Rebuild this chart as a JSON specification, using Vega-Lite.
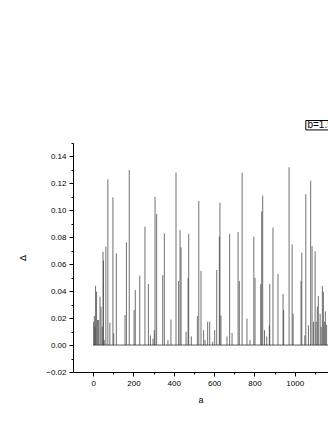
{
  "$schema": "https://vega.github.io/schema/vega-lite/v6.json",
  "width": 255,
  "height": 229,
  "autosize": {"type": "none"},
  "padding": {"left": 73, "top": 143, "right": 0, "bottom": 53},
  "config": {
    "view": {"stroke": null},
    "font": "Liberation Sans",
    "axis": {
      "grid": false,
      "domainColor": "#000",
      "tickColor": "#000",
      "labelColor": "#000",
      "titleColor": "#000",
      "labelFont": "Liberation Sans",
      "titleFont": "Liberation Sans",
      "labelFontSize": 8,
      "titleFontSize": 9,
      "titleFontWeight": "normal",
      "domainWidth": 1,
      "tickWidth": 1
    }
  },
  "datasets": {
    "spikes": [
      {"a": 2.5, "d": 0.0173}, {"a": 6, "d": 0.0215}, {"a": 9, "d": 0.0136}, {"a": 12, "d": 0.044},
      {"a": 17, "d": 0.0396}, {"a": 22, "d": 0.0186}, {"a": 27, "d": 0.0186}, {"a": 34, "d": 0.0359},
      {"a": 39, "d": 0.0285}, {"a": 45, "d": 0.0136}, {"a": 49, "d": 0.0693}, {"a": 51, "d": 0.0627},
      {"a": 55, "d": 0.0037}, {"a": 63, "d": 0.0731}, {"a": 73, "d": 0.123}, {"a": 83, "d": 0.0166},
      {"a": 98, "d": 0.1097}, {"a": 102, "d": 0.0087}, {"a": 115, "d": 0.0681}, {"a": 158, "d": 0.0223},
      {"a": 165, "d": 0.0763}, {"a": 179, "d": 0.130}, {"a": 203, "d": 0.026}, {"a": 209, "d": 0.0409},
      {"a": 231, "d": 0.0515}, {"a": 257, "d": 0.0879}, {"a": 274, "d": 0.0453}, {"a": 284, "d": 0.0072},
      {"a": 297, "d": 0.0047}, {"a": 303, "d": 0.011}, {"a": 307, "d": 0.110}, {"a": 315, "d": 0.0973},
      {"a": 345, "d": 0.0519}, {"a": 353, "d": 0.083}, {"a": 371, "d": 0.0037}, {"a": 386, "d": 0.019},
      {"a": 411, "d": 0.128}, {"a": 424, "d": 0.0476}, {"a": 431, "d": 0.0854}, {"a": 436, "d": 0.0725},
      {"a": 461, "d": 0.0099}, {"a": 471, "d": 0.050}, {"a": 474, "d": 0.0825}, {"a": 487, "d": 0.0064},
      {"a": 517, "d": 0.0215}, {"a": 524, "d": 0.107}, {"a": 535, "d": 0.055}, {"a": 548, "d": 0.011},
      {"a": 555, "d": 0.0037}, {"a": 568, "d": 0.0173}, {"a": 578, "d": 0.0173}, {"a": 593, "d": 0.0025},
      {"a": 603, "d": 0.011}, {"a": 613, "d": 0.0557}, {"a": 626, "d": 0.0805}, {"a": 629, "d": 0.1057},
      {"a": 634, "d": 0.0218}, {"a": 664, "d": 0.0064}, {"a": 677, "d": 0.0825}, {"a": 689, "d": 0.009},
      {"a": 719, "d": 0.0838}, {"a": 725, "d": 0.0476}, {"a": 739, "d": 0.128}, {"a": 763, "d": 0.0196},
      {"a": 778, "d": 0.0037}, {"a": 797, "d": 0.0805}, {"a": 803, "d": 0.0499}, {"a": 831, "d": 0.0451},
      {"a": 836, "d": 0.0991}, {"a": 841, "d": 0.111}, {"a": 850, "d": 0.011}, {"a": 861, "d": 0.0064},
      {"a": 874, "d": 0.0146}, {"a": 876, "d": 0.0453}, {"a": 892, "d": 0.0872}, {"a": 917, "d": 0.0528},
      {"a": 942, "d": 0.038}, {"a": 945, "d": 0.026}, {"a": 972, "d": 0.132}, {"a": 987, "d": 0.0748},
      {"a": 992, "d": 0.0233}, {"a": 1031, "d": 0.0476}, {"a": 1035, "d": 0.0687}, {"a": 1050, "d": 0.0072},
      {"a": 1055, "d": 0.112}, {"a": 1068, "d": 0.0146}, {"a": 1079, "d": 0.122}, {"a": 1086, "d": 0.0734},
      {"a": 1093, "d": 0.0173}, {"a": 1101, "d": 0.0697}, {"a": 1106, "d": 0.0173}, {"a": 1112, "d": 0.0285},
      {"a": 1117, "d": 0.0364}, {"a": 1126, "d": 0.0233}, {"a": 1131, "d": 0.0136}, {"a": 1137, "d": 0.0438},
      {"a": 1142, "d": 0.0396}, {"a": 1147, "d": 0.0173}, {"a": 1152, "d": 0.025}, {"a": 1158, "d": 0.015}
    ],
    "base": [{"a": 0, "a2": 1200, "v": 0}],
    "lab": [{"a": 1055, "a2": 1300, "y": 0.1597, "y2": 0.1667, "ta": 1063, "ty": 0.1632, "t": "b=1.5"}]
  },
  "layer": [
    {
      "data": {"name": "spikes"},
      "mark": {"type": "rule", "color": "#333", "strokeWidth": 0.7},
      "encoding": {
        "x": {
          "field": "a", "type": "quantitative",
          "scale": {"domain": [-100, 1165], "nice": false, "zero": false},
          "axis": {"orient": "bottom", "values": [0, 200, 400, 600, 800, 1000, 1200], "format": "d", "tickSize": 4, "labelPadding": 3, "labelFlush": false, "labelOverlap": false, "labelBound": false, "title": "a", "titlePadding": 8}
        },
        "y": {
          "field": "d", "type": "quantitative",
          "scale": {"domain": [-0.02, 0.15], "nice": false, "zero": false},
          "axis": {"orient": "left", "values": [-0.02, 0, 0.02, 0.04, 0.06, 0.08, 0.1, 0.12, 0.14], "format": ".2f", "tickSize": 4, "labelPadding": 3, "labelFlush": false, "labelOverlap": false, "title": "Δ", "titlePadding": 18}
        },
        "y2": {"datum": 0}
      }
    },
    {
      "data": {"name": "base"},
      "mark": {"type": "rule", "color": "#333", "strokeWidth": 0.8},
      "encoding": {
        "x": {
          "field": "a", "type": "quantitative",
          "axis": {"orient": "bottom", "values": [100, 300, 500, 700, 900, 1100], "tickSize": 2, "labels": false, "domain": false, "title": null}
        },
        "x2": {"field": "a2"},
        "y": {
          "field": "v", "type": "quantitative",
          "axis": {"orient": "left", "values": [-0.01, 0.01, 0.03, 0.05, 0.07, 0.09, 0.11, 0.13, 0.15], "tickSize": 2, "labels": false, "domain": false, "title": null}
        }
      }
    },
    {
      "data": {"name": "lab"},
      "mark": {"type": "rect", "filled": false, "stroke": "#000", "strokeWidth": 1},
      "encoding": {
        "x": {"field": "a", "type": "quantitative", "axis": null},
        "x2": {"field": "a2"},
        "y": {"field": "y", "type": "quantitative", "axis": null},
        "y2": {"field": "y2"}
      }
    },
    {
      "data": {"name": "lab"},
      "mark": {"type": "text", "align": "left", "baseline": "middle", "fontSize": 10, "font": "Liberation Sans", "color": "#000"},
      "encoding": {
        "x": {"field": "ta", "type": "quantitative", "axis": null},
        "y": {"field": "ty", "type": "quantitative", "axis": null},
        "text": {"field": "t"}
      }
    }
  ],
  "resolve": {"axis": {"x": "independent", "y": "independent"}}
}
